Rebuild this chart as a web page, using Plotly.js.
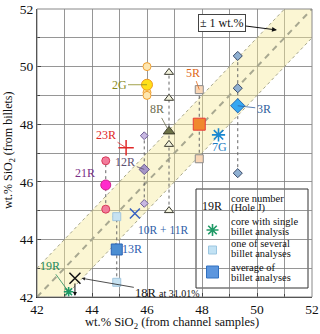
<!DOCTYPE html>
<html><head><meta charset="utf-8">
<script src="https://cdn.plot.ly/plotly-3.0.1.min.js"></script>
<style>html,body{margin:0;padding:0;background:#fff}#chart{width:320px;height:334px}</style>
</head><body><div id="chart"></div>
<script>
// ---------- data ----------
const axisRange = [42, 52];
const bandHalfWidth = 1;

// cores with several billet analyses (x = channel SiO2, y = billet SiO2)
const coreNames = ['2G', '8R', '5R', '3R', '12R', '21R', '13R'];
const coreChannelSiO2 = [46.0, 46.8, 47.9, 49.3, 45.9, 44.5, 44.9];
const billets2G = [50.0, 49.1, 49.0];
const billets8R = [49.8, 48.9, 47.3, 45.0];
const billets5R = [49.2, 46.8];
const billets3R = [50.37, 49.25, 46.3];
const billets12R = [47.6, 45.25];
const billets21R = [46.73, 45.05];
const billets13R = [44.79, 42.51];
const coreAverageSiO2 = [49.37, 47.75, 48.0, 48.64, 46.43, 45.89, 43.65];

// cores with a single billet analysis
const singleNames = ['7G', '19R'];
const singleChannel = [48.6, 43.15];
const singleBillet = [47.63, 42.18];

// other cores
const otherNames = ['23R', '10R + 11R', '18R'];
const otherChannel = [45.24, 45.56, 43.38];
const otherBillet = [47.18, 44.9, 42.65];
const offscale18R = '31.01%';

// ---------- styles ----------
const FONT = '"Liberation Serif", serif';
const billetLists = [billets2G, billets8R, billets5R, billets3R, billets12R, billets21R, billets13R];
const symbols = ['circle', 'triangle-up', 'square', 'diamond', 'diamond', 'circle', 'square'];
const indFill = ['#fde6b0', '#f2f2dc', '#f9d6b6', '#8fb0d2', '#c8b8e2', '#f27c9c', '#c6e2f2'];
const indLine = ['#f0a030', '#3a3a30', '#8a8a8a', '#3a4a68', '#6c5c94', '#d83a5a', '#a2c6de'];
const indSize = [8, 8, 8, 7, 6, 8, 8];
const avgFill = ['#ffe018', '#6c7246', '#f0882e', '#36a8f2', '#a696c8', '#ff2ccc', '#4c8ed2'];
const avgLine = ['#f09a20', '#3a3a2a', '#e83a3a', '#2a6ab0', '#6a5a90', '#d0208a', '#2a62b4'];
const avgSize = [11, 10, 12, 11, 8, 10, 11];
const connect = [false, true, true, true, true, true, true];

const lo = axisRange[0], hi = axisRange[1], h = bandHalfWidth;
const traces = [];
// +/- 1 wt.% band
traces.push({x: [lo, lo, hi - h, hi, hi, lo + h, lo], y: [lo, lo + h, hi, hi, hi - h, lo, lo],
  fill: 'toself', fillcolor: 'rgba(246,234,150,0.42)', mode: 'lines', line: {width: 0}, hoverinfo: 'skip'});
traces.push({x: [lo, hi - h], y: [lo + h, hi], mode: 'lines', line: {color: '#a6a68a', width: 1, dash: 'dot'}});
traces.push({x: [lo + h, hi], y: [lo, hi - h], mode: 'lines', line: {color: '#a6a68a', width: 1, dash: 'dot'}});
traces.push({x: [lo, hi], y: [lo, hi], mode: 'lines', line: {color: '#a8a890', width: 2, dash: '6px,5px'}});

coreNames.forEach((n, i) => {
  const ys = billetLists[i];
  if (connect[i]) {
    traces.push({x: [coreChannelSiO2[i], coreChannelSiO2[i]], y: [Math.min(...ys), Math.max(...ys)],
      mode: 'lines', line: {color: '#666', width: 1, dash: 'dot'}});
  }
  traces.push({x: ys.map(() => coreChannelSiO2[i]), y: ys, mode: 'markers',
    marker: {symbol: symbols[i], size: indSize[i], color: indFill[i], line: {color: indLine[i], width: 1}}});
  traces.push({x: [coreChannelSiO2[i]], y: [coreAverageSiO2[i]], mode: 'markers',
    marker: {symbol: symbols[i], size: avgSize[i], color: avgFill[i], line: {color: avgLine[i], width: 1}}});
});
// singles (asterisks)
const singleColors = ['#1a88d0', '#1f9a66'];
const singleSizes = [11, 8];
singleNames.forEach((n, i) => {
  traces.push({x: [singleChannel[i]], y: [singleBillet[i]], mode: 'markers',
    marker: {symbol: 'asterisk-open', size: singleSizes[i], color: singleColors[i], line: {width: 1.6}}});
});
// others
const otherSymbols = ['cross-thin-open', 'x-thin-open', 'x-thin-open'];
const otherColors = ['#e02828', '#3a62c0', '#111'];
const otherSizes = [11, 10, 11];
otherNames.forEach((n, i) => {
  traces.push({x: [otherChannel[i]], y: [otherBillet[i]], mode: 'markers',
    marker: {symbol: otherSymbols[i], size: otherSizes[i], color: otherColors[i], line: {width: 1.5}}});
});

// pixel -> paper / axis helpers (plot area 37..312 x 9..297)
const PX = p => (p - 37) / 275;
const PY = p => (297 - p) / 288;
const DX = p => lo + (p - 37) / 27.5;
const DY = p => lo + (297 - p) / 28.8;

// legend markers
traces.push({x: [DX(212.5)], y: [DY(230)], mode: 'markers',
  marker: {symbol: 'asterisk-open', size: 10, color: '#1f9a66', line: {width: 1.6}}});
traces.push({x: [DX(212.5)], y: [DY(250)], mode: 'markers',
  marker: {symbol: 'square', size: 8, color: '#c2e2f4', line: {color: '#9cc6e0', width: 1}}});
traces.push({x: [DX(212.5)], y: [DY(272)], mode: 'markers',
  marker: {symbol: 'square', size: 12, color: '#5c96de', line: {color: '#3070c0', width: 1}}});

const ann = [];
function lab(text, x, y, ax, ay, color, size, line) {
  ann.push({text, x, y, xref: 'x', yref: 'y', showarrow: !!line, arrowhead: 0, arrowwidth: 0.8,
    arrowcolor: color, ax: ax, ay: ay, standoff: 0,
    font: {family: FONT, size: size || 12, color}});
}
function free(text, px, py, color, size, xanchor) {
  ann.push({text, x: PX(px), y: PY(py), xref: 'paper', yref: 'paper', showarrow: false,
    xanchor: xanchor || 'center', yanchor: 'middle', font: {family: FONT, size: size || 12, color}});
}
// core labels
lab(coreNames[0], coreChannelSiO2[0], coreAverageSiO2[0], -28, 0, '#8a8a1e', 12, true);
lab(coreNames[1], coreChannelSiO2[1], coreAverageSiO2[1], -12, -22, '#6e6e50', 12, true);
lab(coreNames[2], coreChannelSiO2[2], billets5R[0], -6, -17, '#e06a20', 12, true);
lab(coreNames[3], coreChannelSiO2[3], coreAverageSiO2[3], 26, 3, '#2f5e9c', 12, true);
lab(coreNames[4], coreChannelSiO2[4], coreAverageSiO2[4], -19, -7, '#5e5070', 12, true);
free(coreNames[5], 85, 173, '#7a2f86', 12);
free(coreNames[6], 132, 249, '#2f5eb0', 12);
free(singleNames[0], 219, 147, '#1a7ac0', 12);
lab(singleNames[1], singleChannel[1], singleBillet[1], -19, -26, '#1f8a5a', 12, true);
lab(otherNames[0], otherChannel[0], otherBillet[0], -20, -13, '#e02828', 12, true);
free(otherNames[1], 163, 230, '#2f5ea8', 11.5);
// 18R off-scale label + arrows
ann.push({text: otherNames[2] + ' <span style="font-size:10px">at ' + offscale18R + '</span>',
  x: otherChannel[2] + 0.25, y: otherBillet[2], xref: 'x', yref: 'y', showarrow: true, arrowhead: 2,
  arrowsize: 0.8, arrowwidth: 0.8, arrowcolor: '#222', ax: 86, ay: 15, standoff: 0,
  font: {family: FONT, size: 12.5, color: '#111'}});
ann.push({text: ' ', x: otherChannel[2], y: DY(296), xref: 'x', yref: 'y', showarrow: true, arrowhead: 2,
  arrowsize: 0.8, arrowwidth: 1, arrowcolor: '#111', ax: 0, ay: -15, standoff: 0, font: {size: 2}});
// +/- 1 wt.% box
ann.push({text: '± 1 wt.%', x: DX(277), y: DY(30), xref: 'x', yref: 'y', showarrow: true, arrowhead: 2,
  arrowsize: 1, arrowwidth: 1, arrowcolor: '#111', ax: -55, ay: -7, standoff: 0,
  bgcolor: '#fff', bordercolor: '#444', borderwidth: 1, borderpad: 1,
  font: {family: FONT, size: 12, color: '#111'}});
// legend text
free('19R', 212, 206, '#111', 12);
free('core number', 229, 198, '#111', 10.5, 'left');
free('(Hole J)', 229, 208.5, '#111', 10.5, 'left');
free('core with single', 229, 221.5, '#111', 10.5, 'left');
free('billet analysis', 229, 231, '#111', 10.5, 'left');
free('one of several', 229, 243.5, '#111', 10.5, 'left');
free('billet analyses', 229, 253.5, '#111', 10.5, 'left');
free('average of', 229, 267.5, '#111', 10.5, 'left');
free('billet analyses', 229, 277, '#111', 10.5, 'left');
// axis titles
free('wt.% SiO<sub>2</sub> (from channel samples)', 172, 323, '#111', 12.5);
ann.push({text: 'wt.% SiO<sub>2</sub> (from billets)', x: PX(9), y: PY(150), xref: 'paper', yref: 'paper',
  xanchor: 'center', yanchor: 'middle',
  showarrow: false, textangle: -90, font: {family: FONT, size: 12, color: '#111'}});

const axisCommon = {
  range: axisRange, tickmode: 'linear', tick0: 42, dtick: 2, showgrid: true, gridcolor: '#7c7c7c', gridwidth: 0.8,
  minor: {dtick: 1, showgrid: true, gridcolor: '#7c7c7c', gridwidth: 0.8, ticks: 'inside', ticklen: 3, tickcolor: '#444'},
  ticks: 'inside', ticklen: 4, tickcolor: '#444', showline: true, linecolor: '#222', linewidth: 1,
  zeroline: false, tickfont: {family: FONT, size: 13.5, color: '#111'}, fixedrange: true
};
const layout = {
  width: 320, height: 334, margin: {l: 37, r: 8, t: 9, b: 37},
  paper_bgcolor: '#fff', plot_bgcolor: '#fff', showlegend: false,
  font: {family: FONT},
  xaxis: Object.assign({}, axisCommon),
  yaxis: Object.assign({}, axisCommon),
  shapes: [
    {type: 'rect', xref: 'paper', yref: 'paper', x0: 0, x1: 1, y0: 0, y1: 1, line: {color: '#888', width: 1}, layer: 'above'},
    {type: 'rect', xref: 'paper', yref: 'paper', x0: PX(196), x1: PX(308), y0: PY(288), y1: PY(189),
      fillcolor: '#fff', line: {color: '#333', width: 1}, layer: 'between'}
  ],
  annotations: ann
};
Plotly.newPlot('chart', traces, layout, {displayModeBar: false, staticPlot: true});
</script></body></html>
